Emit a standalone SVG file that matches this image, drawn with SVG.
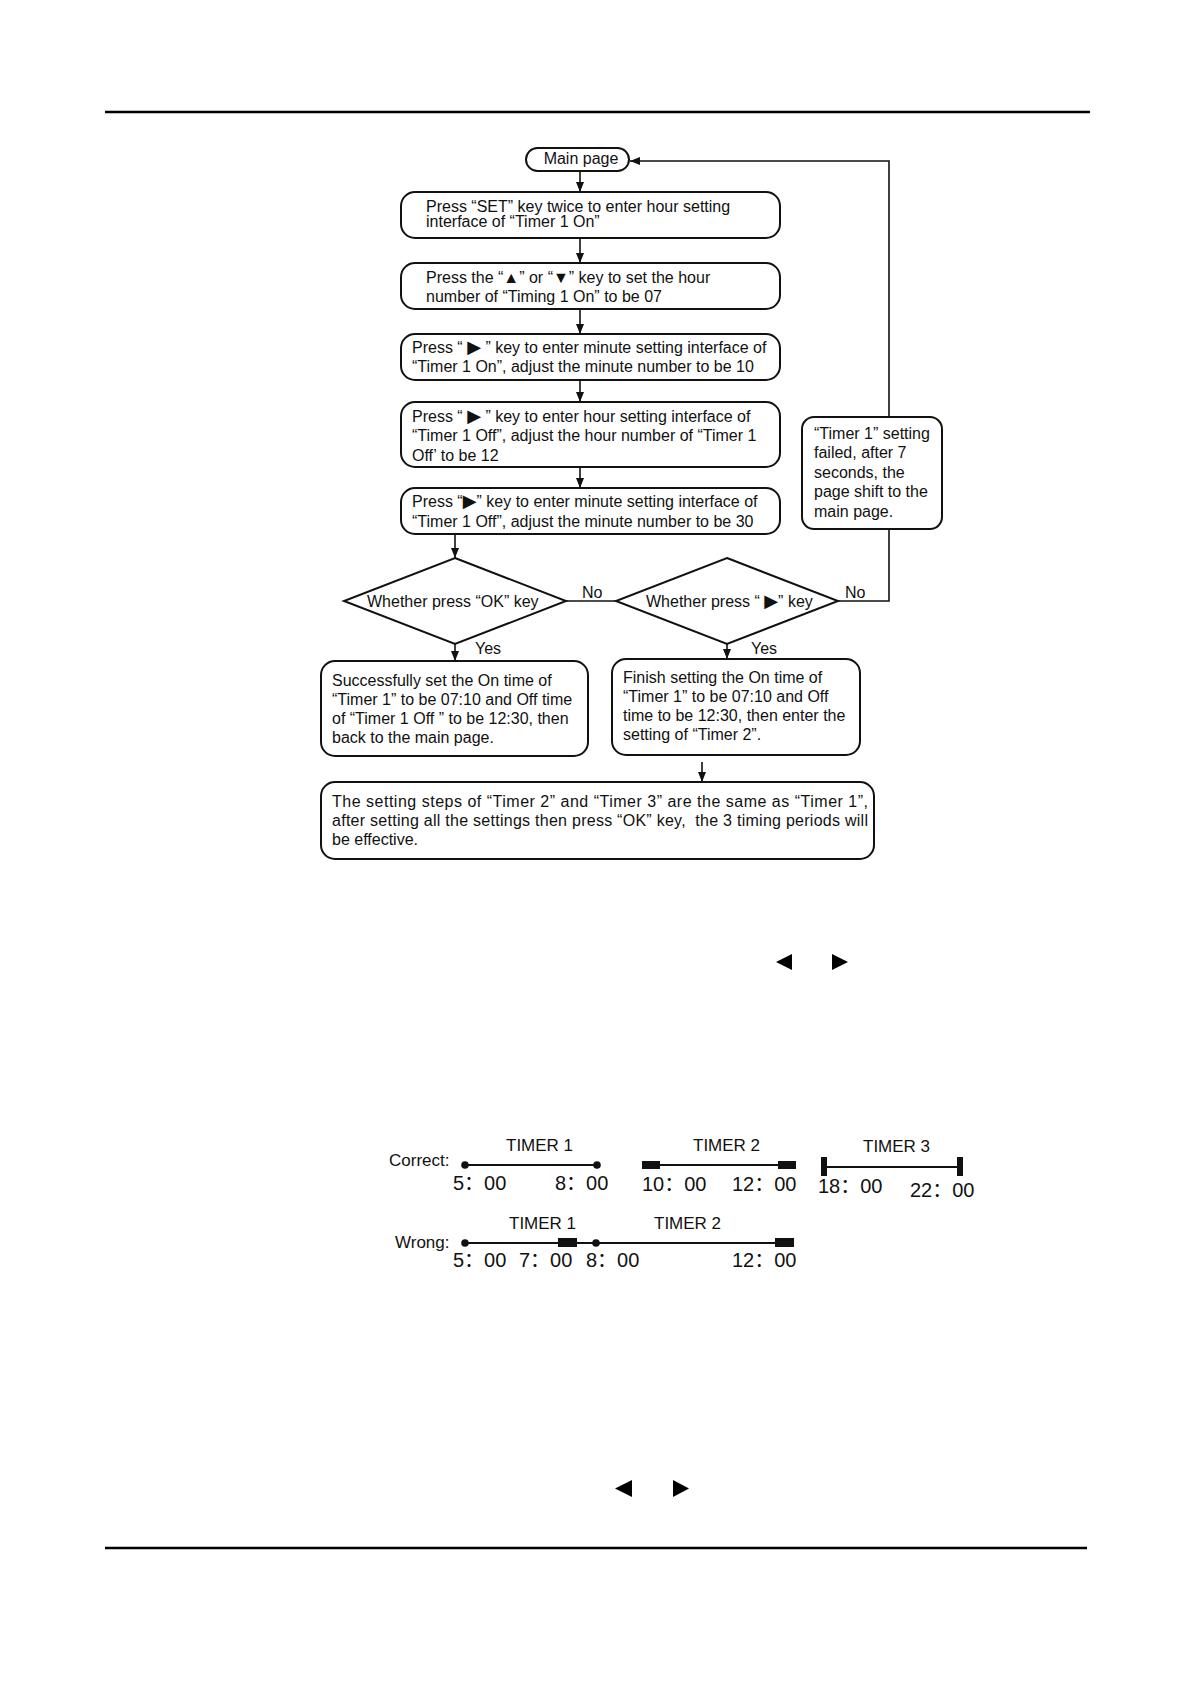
<svg xmlns="http://www.w3.org/2000/svg" width="1191" height="1684" viewBox="0 0 1191 1684">
<style>
text{font-family:"Liberation Sans",Arial,"Noto Sans CJK SC",sans-serif;font-size:16px;fill:#111}
.box{fill:#fff;stroke:#111;stroke-width:2}
.con{fill:none;stroke:#111;stroke-width:1.6}
.tl{font-size:17px}
.tm{font-size:20px}
.bar{fill:#111}
.sym{font-family:"DejaVu Sans",sans-serif;font-size:18px}
</style>
<defs>
<marker id="ah" markerUnits="userSpaceOnUse" markerWidth="10" markerHeight="10" refX="10" refY="4" orient="auto">
<path d="M0,0 L10,4 L0,8 z" fill="#111"/>
</marker>
</defs>
<rect width="1191" height="1684" fill="#fff"/>
<line x1="105" y1="112" x2="1090" y2="112" stroke="#000" stroke-width="2.5"/>
<line x1="105" y1="1548" x2="1087" y2="1548" stroke="#000" stroke-width="2.5"/>

<g id="connectors">
<path class="con" d="M580,171 V192" marker-end="url(#ah)"/>
<path class="con" d="M580,238 V263" marker-end="url(#ah)"/>
<path class="con" d="M580,309 V334" marker-end="url(#ah)"/>
<path class="con" d="M580,380 V402" marker-end="url(#ah)"/>
<path class="con" d="M580,467 V488" marker-end="url(#ah)"/>
<path class="con" d="M455,534 V558" marker-end="url(#ah)"/>
<path class="con" d="M566,601 H616"/>
<path class="con" d="M838,601 H889 V161 H630" marker-end="url(#ah)"/>
<path class="con" d="M455,644 V661" marker-end="url(#ah)"/>
<path class="con" d="M727,644 V659" marker-end="url(#ah)"/>
<path class="con" d="M702,762 V782" marker-end="url(#ah)"/>
</g>

<g id="main">
<rect class="box" x="526" y="148" width="103" height="23" rx="11.5"/>
<text x="581" y="164" text-anchor="middle">Main page</text>
</g>
<g id="step1">
<rect class="box" x="401" y="192" width="379" height="46" rx="14"/>
<text x="426" y="212">Press “SET” key twice to enter hour setting</text>
<text x="426" y="227">interface of “Timer 1 On”</text>
</g>
<g id="step2">
<rect class="box" x="401" y="263" width="379" height="46" rx="14"/>
<text x="426" y="283">Press the “▲” or “▼” key to set the hour</text>
<text x="426" y="302">number of “Timing 1 On” to be 07</text>
</g>
<g id="step3">
<rect class="box" x="401" y="334" width="379" height="46" rx="14"/>
<text x="412" y="353">Press “ <tspan class="sym">▶</tspan> ” key to enter minute setting interface of</text>
<text x="412" y="372">“Timer 1 On”, adjust the minute number to be 10</text>
</g>
<g id="step4">
<rect class="box" x="401" y="402" width="379" height="65" rx="14"/>
<text x="412" y="422">Press “ <tspan class="sym">▶</tspan> ” key to enter hour setting interface of</text>
<text x="412" y="441">“Timer 1 Off”, adjust the hour number of “Timer 1</text>
<text x="412" y="461">Off’ to be 12</text>
</g>
<g id="step5">
<rect class="box" x="401" y="488" width="379" height="46" rx="14"/>
<text x="412" y="507">Press “<tspan class="sym">▶</tspan>” key to enter minute setting interface of</text>
<text x="412" y="527">“Timer 1 Off”, adjust the minute number to be 30</text>
</g>
<g id="failed">
<rect class="box" x="802" y="417" width="140" height="112" rx="12"/>
<text x="814" y="439">“Timer 1” setting</text>
<text x="814" y="458">failed, after 7</text>
<text x="814" y="478">seconds, the</text>
<text x="814" y="497">page shift to the</text>
<text x="814" y="517">main page.</text>
</g>
<g id="decision1">
<polygon class="box" points="455,558 566,601 455,644 344,601"/>
<text x="367" y="607">Whether press “OK” key</text>
<text x="582" y="598">No</text>
<text x="475" y="654">Yes</text>
</g>
<g id="decision2">
<polygon class="box" points="727,558 838,601 727,644 616,601"/>
<text x="646" y="607">Whether press “ <tspan class="sym">▶</tspan>” key</text>
<text x="845" y="598">No</text>
<text x="751" y="654">Yes</text>
</g>
<g id="successL">
<rect class="box" x="321" y="661" width="267" height="95" rx="14"/>
<text x="332" y="686">Successfully set the On time of</text>
<text x="332" y="705">“Timer 1” to be 07:10 and Off time</text>
<text x="332" y="724">of “Timer 1 Off ” to be 12:30, then</text>
<text x="332" y="743">back to the main page.</text>
</g>
<g id="finishR">
<rect class="box" x="612" y="659" width="248" height="96" rx="14"/>
<text x="623" y="683">Finish setting the On time of</text>
<text x="623" y="702">“Timer 1” to be 07:10 and Off</text>
<text x="623" y="721">time to be 12:30, then enter the</text>
<text x="623" y="740">setting of “Timer 2”.</text>
</g>
<g id="summary">
<rect class="box" x="321" y="782" width="553" height="77" rx="14"/>
<text x="332" y="807" textLength="536" lengthAdjust="spacing">The setting steps of “Timer 2” and “Timer 3” are the same as “Timer 1”,</text>
<text x="332" y="826" textLength="536" lengthAdjust="spacing">after setting all the settings then press “OK” key,&#160; the 3 timing periods will</text>
<text x="332" y="845">be effective.</text>
</g>

<polygon points="792,954 792,970 776,962" fill="#000"/>
<polygon points="832,954 832,970 848,962" fill="#000"/>

<g id="timeline">
<text class="tl" x="389" y="1166">Correct:</text>
<text class="tl" x="506" y="1151">TIMER 1</text>
<line x1="465" y1="1165" x2="597" y2="1165" stroke="#111" stroke-width="2"/>
<circle cx="465" cy="1165" r="3.8" class="bar"/>
<circle cx="597" cy="1165" r="3.8" class="bar"/>
<text class="tm" x="453" y="1190">5：00</text>
<text class="tm" x="555" y="1190">8：00</text>

<text class="tl" x="693" y="1151">TIMER 2</text>
<line x1="660" y1="1165" x2="778" y2="1165" stroke="#111" stroke-width="2"/>
<rect class="bar" x="642" y="1161" width="18" height="8"/>
<rect class="bar" x="778" y="1161" width="18" height="8"/>
<text class="tm" x="642" y="1191">10：00</text>
<text class="tm" x="732" y="1191">12：00</text>

<text class="tl" x="863" y="1152">TIMER 3</text>
<line x1="824" y1="1167" x2="960" y2="1167" stroke="#111" stroke-width="2"/>
<rect class="bar" x="821" y="1157" width="6" height="19"/>
<rect class="bar" x="957" y="1157" width="6" height="19"/>
<text class="tm" x="818" y="1193">18：00</text>
<text class="tm" x="910" y="1197">22：00</text>

<text class="tl" x="395" y="1248">Wrong:</text>
<text class="tl" x="509" y="1229">TIMER 1</text>
<text class="tl" x="654" y="1229">TIMER 2</text>
<line x1="465" y1="1243" x2="777" y2="1243" stroke="#111" stroke-width="2"/>
<circle cx="465" cy="1243" r="3.8" class="bar"/>
<rect class="bar" x="558" y="1238" width="19" height="9"/>
<circle cx="596" cy="1243" r="3.8" class="bar"/>
<rect class="bar" x="775" y="1238" width="19" height="9"/>
<text class="tm" x="453" y="1267">5：00</text>
<text class="tm" x="519" y="1267">7：00</text>
<text class="tm" x="586" y="1267">8：00</text>
<text class="tm" x="732" y="1267">12：00</text>
</g>

<polygon points="632,1480 632,1497 615,1488.5" fill="#000"/>
<polygon points="673,1480 673,1497 689,1488.5" fill="#000"/>
</svg>
